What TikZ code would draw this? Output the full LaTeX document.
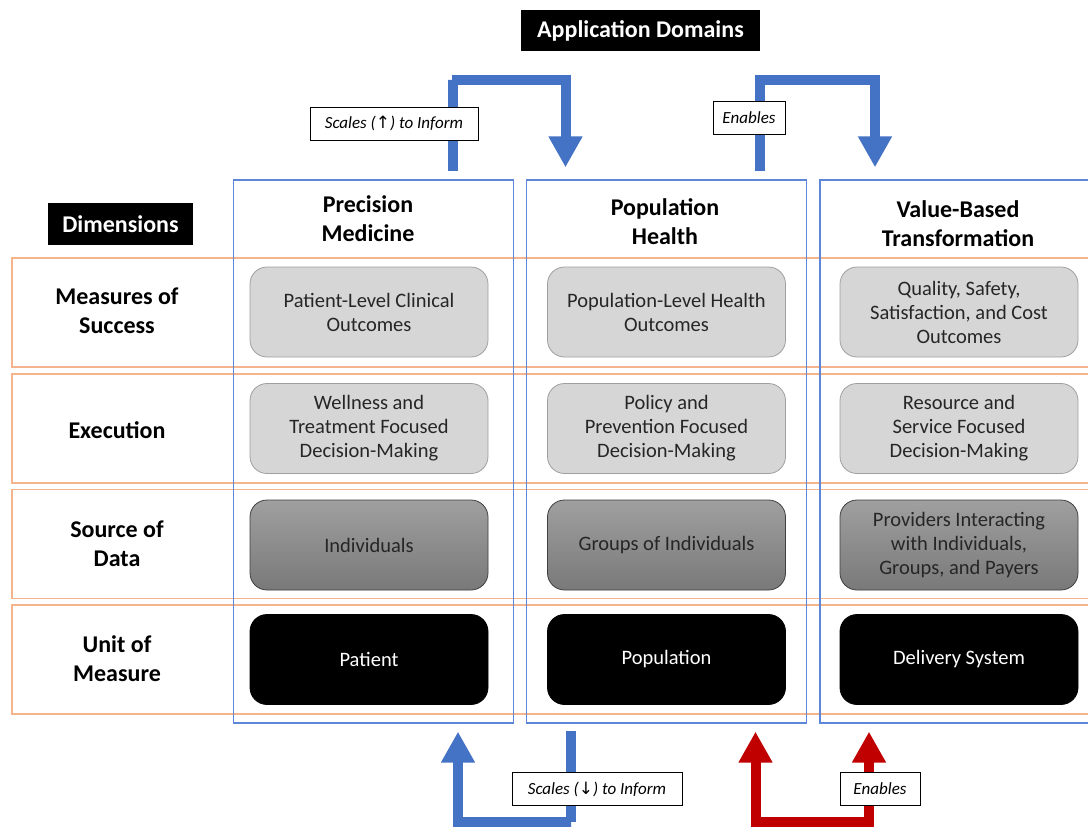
\documentclass[tikz,border=0pt]{standalone}
\usepackage{fontspec}
\setmainfont{Carlito}
\newfontfamily\arrowfont{DejaVu Sans}
\usetikzlibrary{arrows.meta,calc}
\definecolor{domainblue}{RGB}{68,114,196}
\definecolor{colblue}{RGB}{95,135,215}
\definecolor{roworange}{RGB}{244,180,140}
\definecolor{enablered}{RGB}{192,0,0}
\definecolor{lightcell}{RGB}{214,214,214}

\begin{document}
\begin{tikzpicture}[x=1pt,y=-1pt]
\tikzstyle{lien}=[{Triangle[width=32pt,length=31pt]}-{Triangle[width=32pt,length=31pt]},line width=10pt,domainblue]
\tikzset{cell/.style={draw=gray!75,thick,fill=#1,rounded corners=17pt,minimum width=238pt,minimum height=90pt,align=center,text=black!85,font=\fontsize{20.5}{24}\selectfont},
cell/.default={lightcell}}
\tikzset{datacell/.style={cell,top color=gray!75,bottom color=gray!95!black,draw=black!75},
unitcell/.style={cell=black,draw=black,text=white}}
\tikzset{rowbox/.style={draw=roworange,line width=1.6pt,minimum width=1088pt,minimum height=109pt},
colbox/.style={draw=colblue,line width=1.3pt,minimum width=280pt,minimum height=543pt}}
\tikzset{dimlabel/.style={align=center,font=\bfseries\fontsize{24}{29}\selectfont},
banner/.style={fill=black,text=white,font=\bfseries\fontsize{24}{28}\selectfont},
tag/.style={draw,thick,fill=white,minimum height=33pt,inner xsep=6pt,font=\itshape\fontsize{17}{20}\selectfont}}
\useasboundingbox (0,0) rectangle (1088,827);
\clip (0,0) rectangle (1088,827);

% rows
\node[rowbox] (mesure) at (556,312.5) {};
\node[rowbox] (execution) at (556,428.5) {};
\node[rowbox] (source) at (556,544) {};
\node[rowbox] (unite) at (556,659.5) {};

% columns
\node[colbox] (precision) at (373.5,451.5) {};
\node[colbox] (population) at (666.5,451.5) {};
\node[colbox] (valeur) at (960,451.5) {};

\node[banner,minimum width=239pt,minimum height=41pt] (domaines) at (640.5,30.5) {Application Domains};
\node[banner,minimum width=145pt,minimum height=42pt] (dimensions) at (120.5,224) {Dimensions};

\node[dimlabel] (tprecision) at (368,219) {Precision\\Medicine};
\node[dimlabel] (tpopulation) at (665,222) {Population\\Health};
\node[dimlabel] (tvaleur) at (958,224) {Value-Based\\Transformation};

\node[dimlabel] (lmesure) at (117,311) {Measures of\\Success};
\node[dimlabel] (lexecution) at (117,430) {Execution};
\node[dimlabel] (lsource) at (117,544) {Source of\\Data};
\node[dimlabel] (lunite) at (117,659) {Unit of\\Measure};

\node[cell] (A1) at (369,312) {Patient-Level Clinical\\Outcomes};
\node[cell] (B1) at (666.5,312) {Population-Level Health\\Outcomes};
\node[cell] (C1) at (959,312) {Quality, Safety,\\Satisfaction, and Cost\\Outcomes};
\node[cell] (A2) at (369,428.5) {Wellness and\\Treatment Focused\\Decision-Making};
\node[cell] (B2) at (666.5,428.5) {Policy and\\Prevention Focused\\Decision-Making};
\node[cell] (C2) at (959,428.5) {Resource and\\Service Focused\\Decision-Making};
\node[datacell] (A3) at (369,545) {Individuals};
\node[datacell] (B3) at (666.5,545) {Groups of Individuals};
\node[datacell] (C3) at (959,545) {Providers Interacting\\with Individuals,\\Groups, and Payers};
\node[unitcell] (A4) at (369,659.5) {Patient};
\node[unitcell] (B4) at (666.5,659.5) {Population};
\node[unitcell] (C4) at (959,659.5) {Delivery System};

% arrows
\coordinate (haut1) at ($(precision.north)+(79,-8)$);
\coordinate (haut2) at ($(population.north)+(-101,-12)$);
\coordinate (haut3) at ($(population.north)+(93.5,-8)$);
\coordinate (haut4) at ($(valeur.north)+(-85,-12)$);
\coordinate (bas1) at ($(population.south)+(-96,7)$);
\coordinate (bas2) at ($(precision.south)+(84.5,8)$);
\coordinate (bas3) at ($(population.south)+(89,8)$);
\coordinate (bas4) at ($(valeur.south)+(-91,8)$);

\draw[lien,-{Triangle[width=32pt,length=31pt]}] (haut1) |- (452,80) -| (haut2);
\draw[lien,-{Triangle[width=32pt,length=31pt]}] (haut3) |- (760,80) -| (haut4);
\draw[lien,-{Triangle[width=32pt,length=31pt]}] (bas1) |- (571,822) -| (bas2);
\draw[lien,enablered] (bas3) |- (756,822) -| (bas4);

\node[tag,minimum width=168pt] (echelle1) at (394,123.5) {Scales ({\arrowfont\textup{↑}}) to Inform};
\node[tag,minimum width=72pt] (permet1) at (749,118) {Enables};
\node[tag,minimum width=170pt] (echelle2) at (597,789) {Scales ({\arrowfont\textup{↓}}) to Inform};
\node[tag,minimum width=80pt] (permet2) at (880,789) {Enables};

\end{tikzpicture}
\end{document}
